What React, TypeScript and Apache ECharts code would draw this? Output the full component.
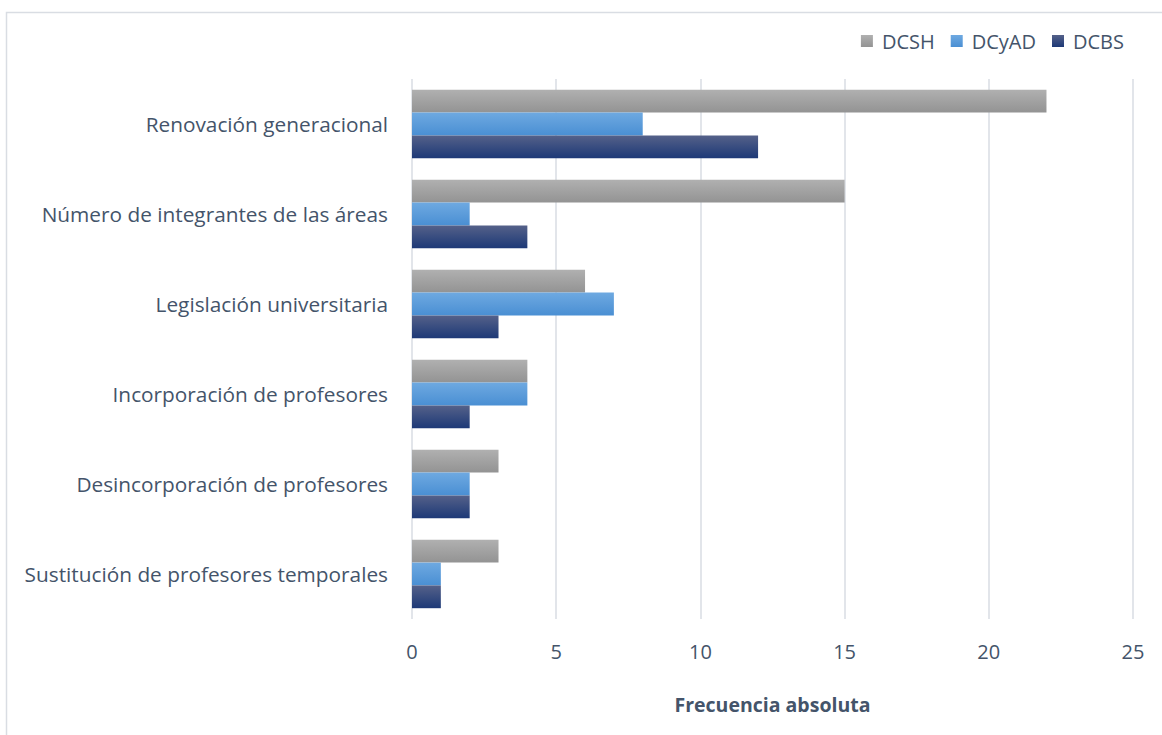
import React, { useEffect, useRef } from "react";
import * as echarts from "echarts";

const categories = [
  "Renovación generacional",
  "Número de integrantes de las áreas",
  "Legislación universitaria",
  "Incorporación de profesores",
  "Desincorporación de profesores",
  "Sustitución de profesores temporales",
];
const dcsh = [22, 15, 6, 4, 3, 3];
const dcyad = [8, 2, 7, 4, 2, 1];
const dcbs = [12, 4, 3, 2, 2, 1];
const xTicks = { min: 0, max: 25, interval: 5 };

const FONT = "Open Sans";
const TXT = "#44546a";

const grad = (a: string, b: string) =>
  new echarts.graphic.LinearGradient(0, 0, 0, 1, [
    { offset: 0, color: a },
    { offset: 1, color: b },
  ]);

export default function App() {
  const ref = useRef<HTMLDivElement>(null);
  useEffect(() => {
    document.body.style.margin = "0";
    const chart = echarts.init(ref.current!, undefined, { renderer: "svg" });
    const c1 = grad("#b0b0b0", "#939393");
    const c2 = grad("#6ea9e1", "#4a8fd3");
    const c3 = grad("#556189", "#1d3977");
    chart.setOption({
      animation: false,
      textStyle: { fontFamily: FONT },
      graphic: [
        {
          type: "rect",
          shape: { x: 6.5, y: 12.5, width: 1300, height: 900 },
          style: { fill: "none", stroke: "#d9dde3", lineWidth: 1.5 },
          silent: true,
          z: -10,
        },
      ],
      legend: {
        right: 33,
        top: 26,
        itemWidth: 12,
        itemHeight: 12,
        itemGap: 16,
        icon: "rect",
        textStyle: { fontFamily: FONT, fontSize: 20, color: TXT, padding: [0, 0, 0, 4] },
        data: [
          { name: "DCSH", itemStyle: { color: c1 } },
          { name: "DCyAD", itemStyle: { color: c2 } },
          { name: "DCBS", itemStyle: { color: c3 } },
        ],
      },
      grid: { left: 412, right: 29, top: 79, bottom: 116, containLabel: false },
      xAxis: {
        type: "value",
        min: xTicks.min,
        max: xTicks.max,
        interval: xTicks.interval,
        name: "Frecuencia absoluta",
        nameLocation: "middle",
        nameGap: 75,
        nameTextStyle: { fontFamily: FONT, fontSize: 19.5, fontWeight: "bold", color: TXT },
        axisLine: { show: false },
        axisTick: { show: false },
        axisLabel: { fontFamily: FONT, fontSize: 20, color: TXT, margin: 22 },
        splitLine: { show: true, lineStyle: { color: "#d9dde3", width: 1.5 } },
      },
      yAxis: {
        type: "category",
        data: categories,
        inverse: true,
        axisLine: { show: false },
        axisTick: { show: false },
        axisLabel: { fontFamily: FONT, fontSize: 20.8, color: TXT, margin: 24 },
      },
      series: [
        { name: "DCSH", type: "bar", data: dcsh, itemStyle: { color: c1 }, barGap: "0%", barCategoryGap: "24%" },
        { name: "DCyAD", type: "bar", data: dcyad, itemStyle: { color: c2 }, barGap: "0%", barCategoryGap: "24%" },
        { name: "DCBS", type: "bar", data: dcbs, itemStyle: { color: c3 }, barGap: "0%", barCategoryGap: "24%" },
      ],
    });
    return () => chart.dispose();
  }, []);
  return <div ref={ref} style={{ width: 1162, height: 735 }} />;
}
